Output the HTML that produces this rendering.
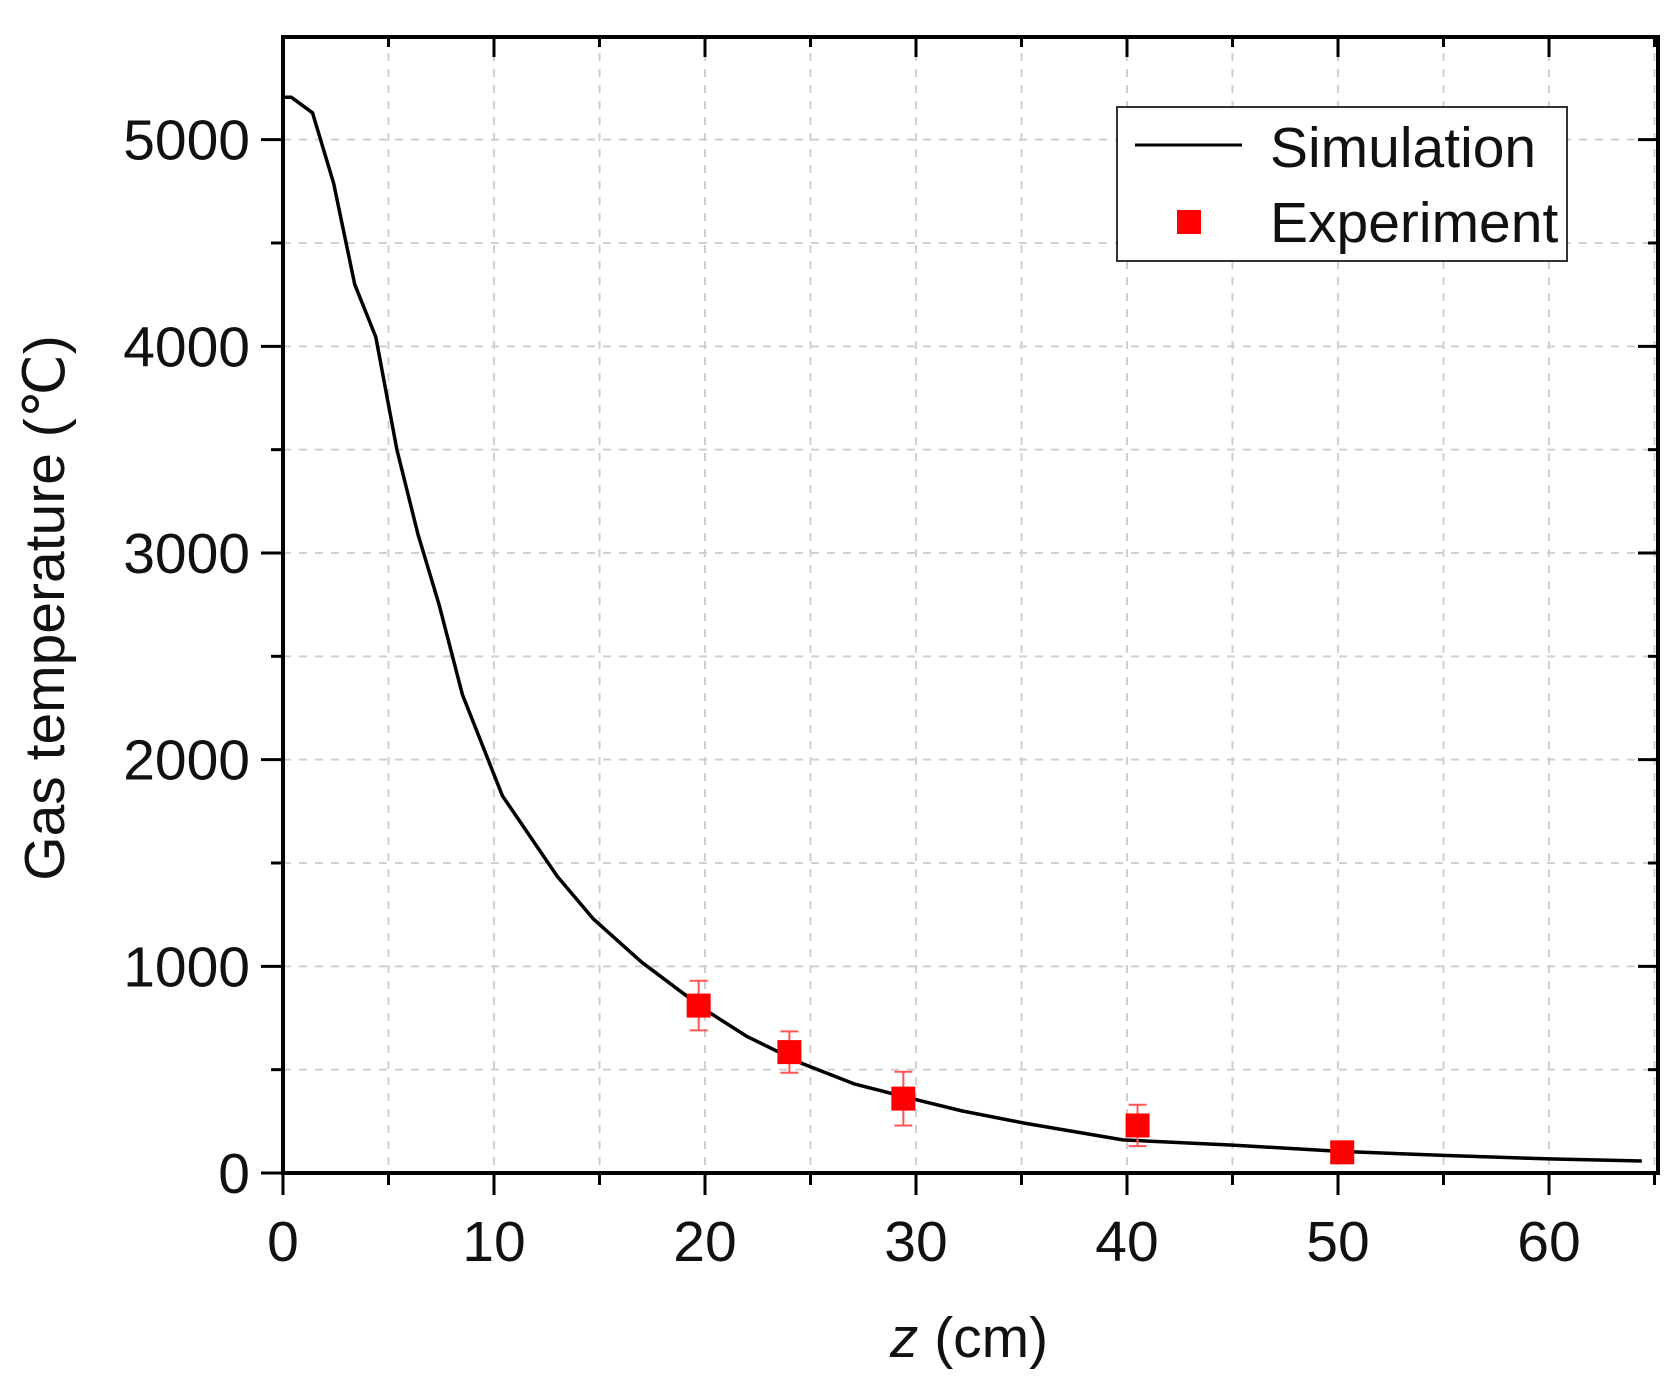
<!DOCTYPE html>
<html><head><meta charset="utf-8"><style>
html,body{margin:0;padding:0;background:#fff;}
svg{display:block;font-family:"Liberation Sans",Arial,sans-serif;}
</style></head><body>
<svg id="chart" width="1671" height="1390" viewBox="0 0 1671 1390" xmlns="http://www.w3.org/2000/svg">
<g id="grid"></g>
<g id="axes"></g>
<g id="series"></g>
<text transform="translate(64,608) rotate(-90)" text-anchor="middle" font-size="57" fill="#111">Gas temperature (℃)</text>
<text x="969" y="1357" text-anchor="middle" font-size="57" fill="#111"><tspan font-style="italic">z</tspan> (cm)</text>
<g>
<rect x="1117" y="107" width="450" height="154" fill="#fff" stroke="#333" stroke-width="2"/>
<line x1="1135" y1="145" x2="1242" y2="145" stroke="#000" stroke-width="3"/>
<text x="1270" y="167" font-size="57" fill="#111">Simulation</text>
<rect x="1177" y="210" width="24" height="24" fill="#f00"/>
<text x="1270" y="242" font-size="57" fill="#111">Experiment</text>
</g>
</svg>
<script>
const simZ = [0,0.4,1.4,2.4,3.4,4.4,5.4,6.4,7.4,8.5,10.4,13,14.7,17,20,22,24.6,27.1,30.2,32.2,35.2,39.8,45,50,55,60,64.4];
const simT = [5205,5205,5130,4790,4300,4045,3500,3090,2750,2315,1825,1435,1230,1020,790,660,530,430,350,300,240,160,135,105,85,68,58];
const expZ = [19.7,24,29.4,40.5,50.2];
const expT = [810,585,360,230,100];
const expErr = [120,100,130,100,20];
const xTicks = [0,10,20,30,40,50,60];
const yTicks = [0,1000,2000,3000,4000,5000];

const NS="http://www.w3.org/2000/svg";
const X0=283,XR=1658,YT=37,Y0=1173;
const xs=v=>X0+v*21.1;
const ys=v=>Y0-v*0.20667;
function mk(tag,attrs,parent){const e=document.createElementNS(NS,tag);for(const k in attrs)e.setAttribute(k,attrs[k]);parent.appendChild(e);return e;}
const grid=document.getElementById('grid'),axes=document.getElementById('axes'),series=document.getElementById('series');

for(let v=5;v<=65;v+=5){const x=xs(v);if(x>=XR-2)break;
  const l=mk('line',{x1:x,y1:YT,x2:x,y2:Y0,stroke:'#d0d0d0','stroke-width':2,'stroke-dasharray':'8 8'},grid);
  
  }
for(let v=500;v<=5500;v+=500){const y=ys(v);if(y<=YT+2)break;
  const l=mk('line',{x1:X0,y1:y,x2:XR,y2:y,stroke:'#d0d0d0','stroke-width':2,'stroke-dasharray':'8 8'},grid);
  
  }

const frame=mk('rect',{x:X0,y:YT,width:XR-X0,height:Y0-YT,fill:'none',stroke:'#000','stroke-width':4},axes);



for(let v=0;v<=65;v+=5){const x=xs(v);if(x>XR)break;const major=v%10===0;
  mk('line',{x1:x,y1:Y0,x2:x,y2:Y0+(major?22:12),stroke:'#000','stroke-width':3},axes);
  mk('line',{x1:x,y1:YT,x2:x,y2:YT+(major?20:10),stroke:'#000','stroke-width':3},axes);}
for(let v=0;v<=5500;v+=500){const y=ys(v);if(y<YT)break;const major=v%1000===0;
  mk('line',{x1:X0,y1:y,x2:X0-(major?22:12),y2:y,stroke:'#000','stroke-width':3},axes);
  mk('line',{x1:XR,y1:y,x2:XR-(major?20:10),y2:y,stroke:'#000','stroke-width':3},axes);}
xTicks.forEach(v=>{const t=mk('text',{x:xs(v),y:1261,'text-anchor':'middle','font-size':57,fill:'#111'},axes);t.textContent=v;
  
  });
yTicks.forEach(v=>{const t=mk('text',{x:250,y:ys(v)+20,'text-anchor':'end','font-size':57,fill:'#111'},axes);t.textContent=v;
  
  });

const d=simZ.map((z,i)=>(i?'L':'M')+xs(z).toFixed(1)+' '+ys(simT[i]).toFixed(1)).join(' ');
const path=mk('path',{d:d,fill:'none',stroke:'#000','stroke-width':3.5,'stroke-linejoin':'round'},series);



expZ.forEach((z,i)=>{const x=xs(z),y=ys(expT[i]),e=expErr[i];
  const g=mk('g',{},series);
  
  
  mk('line',{x1:x,y1:ys(expT[i]+e),x2:x,y2:ys(expT[i]-e),stroke:'#f55','stroke-width':2},g);
  mk('line',{x1:x-9,y1:ys(expT[i]+e),x2:x+9,y2:ys(expT[i]+e),stroke:'#f55','stroke-width':2},g);
  mk('line',{x1:x-9,y1:ys(expT[i]-e),x2:x+9,y2:ys(expT[i]-e),stroke:'#f55','stroke-width':2},g);
  mk('rect',{x:x-12,y:y-12,width:24,height:24,fill:'#f00'},g);});
</script>
</body></html>
